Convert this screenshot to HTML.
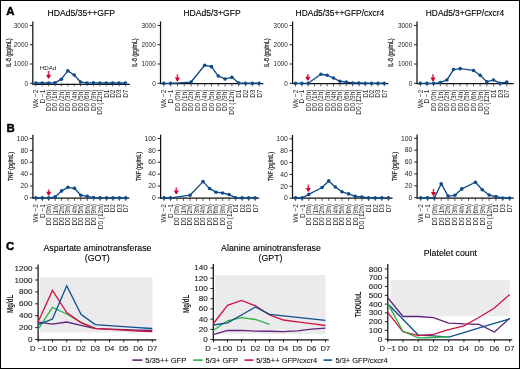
<!DOCTYPE html>
<html><head><meta charset="utf-8"><style>
html,body{margin:0;padding:0;background:#fff;}
body{width:520px;height:369px;position:relative;overflow:hidden;font-family:"Liberation Sans", sans-serif;}
</style></head><body>
<svg width="520" height="369" viewBox="0 0 520 369" style="position:absolute;left:0;top:0;will-change:transform">
<g>
<rect x="0" y="0" width="520" height="369" fill="#fff"/>
<g font-family='"Liberation Sans", sans-serif'>
<text x="6.3" y="15.1" font-size="11.4" font-weight="bold" fill="#000" stroke="#000" stroke-width="0.45">A</text>
<text x="6.6" y="131.6" font-size="11.4" font-weight="bold" fill="#000" stroke="#000" stroke-width="0.45">B</text>
<text x="6.0" y="250.3" font-size="11.4" font-weight="bold" fill="#000" stroke="#000" stroke-width="0.45">C</text>
<line x1="32.8" y1="21.5" x2="32.8" y2="84" stroke="#111" stroke-width="1.25"/>
<line x1="32.3" y1="84.35" x2="129.8" y2="84.35" stroke="#111" stroke-width="1.25"/>
<line x1="29.8" y1="25.5" x2="32.8" y2="25.5" stroke="#111" stroke-width="0.9"/>
<text transform="translate(28,27.7) scale(1.0,1)" font-size="6.4" text-anchor="end" fill="#262626">3000</text>
<line x1="29.8" y1="44.7" x2="32.8" y2="44.7" stroke="#111" stroke-width="0.9"/>
<text transform="translate(28,46.9) scale(1.0,1)" font-size="6.4" text-anchor="end" fill="#262626">2000</text>
<line x1="29.8" y1="64" x2="32.8" y2="64" stroke="#111" stroke-width="0.9"/>
<text transform="translate(28,66.2) scale(1.0,1)" font-size="6.4" text-anchor="end" fill="#262626">1000</text>
<line x1="29.8" y1="83.3" x2="32.8" y2="83.3" stroke="#111" stroke-width="0.9"/>
<text transform="translate(28,85.5) scale(1.0,1)" font-size="6.4" text-anchor="end" fill="#262626">0</text>
<line x1="35.8" y1="83.4" x2="35.8" y2="86.4" stroke="#333" stroke-width="0.8"/>
<text transform="translate(38.2,89.6) rotate(-90) scale(0.98,1)" font-size="6.6" text-anchor="end" fill="#222">Wk −2</text>
<line x1="42.2" y1="83.4" x2="42.2" y2="86.4" stroke="#333" stroke-width="0.8"/>
<text transform="translate(44.6,89.6) rotate(-90) scale(0.98,1)" font-size="6.6" text-anchor="end" fill="#222">D −1</text>
<line x1="48.6" y1="83.4" x2="48.6" y2="86.4" stroke="#333" stroke-width="0.8"/>
<text transform="translate(51,89.6) rotate(-90) scale(0.98,1)" font-size="6.6" text-anchor="end" fill="#222">D0 (0h)</text>
<line x1="55" y1="83.4" x2="55" y2="86.4" stroke="#333" stroke-width="0.8"/>
<text transform="translate(57.4,89.6) rotate(-90) scale(0.98,1)" font-size="6.6" text-anchor="end" fill="#222">D0 (1h)</text>
<line x1="61.4" y1="83.4" x2="61.4" y2="86.4" stroke="#333" stroke-width="0.8"/>
<text transform="translate(63.8,89.6) rotate(-90) scale(0.98,1)" font-size="6.6" text-anchor="end" fill="#222">D0 (2h)</text>
<line x1="67.8" y1="83.4" x2="67.8" y2="86.4" stroke="#333" stroke-width="0.8"/>
<text transform="translate(70.2,89.6) rotate(-90) scale(0.98,1)" font-size="6.6" text-anchor="end" fill="#222">D0 (3h)</text>
<line x1="74.2" y1="83.4" x2="74.2" y2="86.4" stroke="#333" stroke-width="0.8"/>
<text transform="translate(76.6,89.6) rotate(-90) scale(0.98,1)" font-size="6.6" text-anchor="end" fill="#222">D0 (4h)</text>
<line x1="80.6" y1="83.4" x2="80.6" y2="86.4" stroke="#333" stroke-width="0.8"/>
<text transform="translate(83,89.6) rotate(-90) scale(0.98,1)" font-size="6.6" text-anchor="end" fill="#222">D0 (5h)</text>
<line x1="87" y1="83.4" x2="87" y2="86.4" stroke="#333" stroke-width="0.8"/>
<text transform="translate(89.4,89.6) rotate(-90) scale(0.98,1)" font-size="6.6" text-anchor="end" fill="#222">D0 (6h)</text>
<line x1="93.4" y1="83.4" x2="93.4" y2="86.4" stroke="#333" stroke-width="0.8"/>
<text transform="translate(95.8,89.6) rotate(-90) scale(0.98,1)" font-size="6.6" text-anchor="end" fill="#222">D0 (9h)</text>
<line x1="99.8" y1="83.4" x2="99.8" y2="86.4" stroke="#333" stroke-width="0.8"/>
<text transform="translate(102.2,89.6) rotate(-90) scale(0.98,1)" font-size="6.6" text-anchor="end" fill="#222">D0 (12h)</text>
<line x1="106.2" y1="83.4" x2="106.2" y2="86.4" stroke="#333" stroke-width="0.8"/>
<text transform="translate(108.6,89.6) rotate(-90) scale(0.98,1)" font-size="6.6" text-anchor="end" fill="#222">D1</text>
<line x1="112.6" y1="83.4" x2="112.6" y2="86.4" stroke="#333" stroke-width="0.8"/>
<text transform="translate(115,89.6) rotate(-90) scale(0.98,1)" font-size="6.6" text-anchor="end" fill="#222">D2</text>
<line x1="119" y1="83.4" x2="119" y2="86.4" stroke="#333" stroke-width="0.8"/>
<text transform="translate(121.4,89.6) rotate(-90) scale(0.98,1)" font-size="6.6" text-anchor="end" fill="#222">D3</text>
<line x1="125.4" y1="83.4" x2="125.4" y2="86.4" stroke="#333" stroke-width="0.8"/>
<text transform="translate(127.8,89.6) rotate(-90) scale(0.98,1)" font-size="6.6" text-anchor="end" fill="#222">D7</text>
<polyline points="35.8,83 42.2,83 48.6,83 55,82.85 61.4,79.2 67.8,70.85 74.2,75.05 80.6,82.05 87,82.95 93.4,82.9 99.8,83 106.2,83 112.6,83 119,83 125.4,83" fill="none" stroke="#0f4b88" stroke-width="1.35" stroke-linejoin="round"/>
<circle cx="35.8" cy="83" r="1.8" fill="#0f4b88"/>
<circle cx="42.2" cy="83" r="1.8" fill="#0f4b88"/>
<circle cx="48.6" cy="83" r="1.8" fill="#0f4b88"/>
<circle cx="55" cy="82.85" r="1.8" fill="#0f4b88"/>
<circle cx="61.4" cy="79.2" r="1.8" fill="#0f4b88"/>
<circle cx="67.8" cy="70.85" r="1.8" fill="#0f4b88"/>
<circle cx="74.2" cy="75.05" r="1.8" fill="#0f4b88"/>
<circle cx="80.6" cy="82.05" r="1.8" fill="#0f4b88"/>
<circle cx="87" cy="82.95" r="1.8" fill="#0f4b88"/>
<circle cx="93.4" cy="82.9" r="1.8" fill="#0f4b88"/>
<circle cx="99.8" cy="83" r="1.8" fill="#0f4b88"/>
<circle cx="106.2" cy="83" r="1.8" fill="#0f4b88"/>
<circle cx="112.6" cy="83" r="1.8" fill="#0f4b88"/>
<circle cx="119" cy="83" r="1.8" fill="#0f4b88"/>
<circle cx="125.4" cy="83" r="1.8" fill="#0f4b88"/>
<line x1="48.6" y1="71" x2="48.6" y2="75.4" stroke="#cc0530" stroke-width="1.6" stroke-opacity="0.8"/>
<path d="M46.1,74.7 L51.1,74.7 L49.2,78.4 L48,78.4 Z" fill="#cc0530"/>
<text transform="translate(11.1,52.8) rotate(-90)" font-size="7.0" font-weight="normal" text-anchor="middle" fill="#1a1a1a" stroke="#1a1a1a" stroke-width="0.2" textLength="28.8" lengthAdjust="spacingAndGlyphs">IL-6 (pg/mL)</text>
<text x="47.5" y="15.6" font-size="8.6" fill="#000" stroke="#000" stroke-width="0.12" textLength="67.5" lengthAdjust="spacingAndGlyphs">HDAd5/35++GFP</text>
<line x1="160.5" y1="21.5" x2="160.5" y2="84" stroke="#111" stroke-width="1.25"/>
<line x1="160" y1="83.5" x2="263.3" y2="83.5" stroke="#111" stroke-width="1.25"/>
<line x1="157.5" y1="25.5" x2="160.5" y2="25.5" stroke="#111" stroke-width="0.9"/>
<text transform="translate(155.7,27.7) scale(1.0,1)" font-size="6.4" text-anchor="end" fill="#262626">3000</text>
<line x1="157.5" y1="44.7" x2="160.5" y2="44.7" stroke="#111" stroke-width="0.9"/>
<text transform="translate(155.7,46.9) scale(1.0,1)" font-size="6.4" text-anchor="end" fill="#262626">2000</text>
<line x1="157.5" y1="64" x2="160.5" y2="64" stroke="#111" stroke-width="0.9"/>
<text transform="translate(155.7,66.2) scale(1.0,1)" font-size="6.4" text-anchor="end" fill="#262626">1000</text>
<line x1="157.5" y1="83.3" x2="160.5" y2="83.3" stroke="#111" stroke-width="0.9"/>
<text transform="translate(155.7,85.5) scale(1.0,1)" font-size="6.4" text-anchor="end" fill="#262626">0</text>
<line x1="163.8" y1="83.4" x2="163.8" y2="86.4" stroke="#333" stroke-width="0.8"/>
<text transform="translate(166.2,89.6) rotate(-90) scale(0.98,1)" font-size="6.6" text-anchor="end" fill="#222">Wk −2</text>
<line x1="170.61" y1="83.4" x2="170.61" y2="86.4" stroke="#333" stroke-width="0.8"/>
<text transform="translate(173.01,89.6) rotate(-90) scale(0.98,1)" font-size="6.6" text-anchor="end" fill="#222">D −1</text>
<line x1="177.42" y1="83.4" x2="177.42" y2="86.4" stroke="#333" stroke-width="0.8"/>
<text transform="translate(179.82,89.6) rotate(-90) scale(0.98,1)" font-size="6.6" text-anchor="end" fill="#222">D0 (0h)</text>
<line x1="184.23" y1="83.4" x2="184.23" y2="86.4" stroke="#333" stroke-width="0.8"/>
<text transform="translate(186.63,89.6) rotate(-90) scale(0.98,1)" font-size="6.6" text-anchor="end" fill="#222">D0 (1h)</text>
<line x1="191.04" y1="83.4" x2="191.04" y2="86.4" stroke="#333" stroke-width="0.8"/>
<text transform="translate(193.44,89.6) rotate(-90) scale(0.98,1)" font-size="6.6" text-anchor="end" fill="#222">D0 (2h)</text>
<line x1="197.85" y1="83.4" x2="197.85" y2="86.4" stroke="#333" stroke-width="0.8"/>
<text transform="translate(200.25,89.6) rotate(-90) scale(0.98,1)" font-size="6.6" text-anchor="end" fill="#222">D0 (3h)</text>
<line x1="204.66" y1="83.4" x2="204.66" y2="86.4" stroke="#333" stroke-width="0.8"/>
<text transform="translate(207.06,89.6) rotate(-90) scale(0.98,1)" font-size="6.6" text-anchor="end" fill="#222">D0 (4h)</text>
<line x1="211.47" y1="83.4" x2="211.47" y2="86.4" stroke="#333" stroke-width="0.8"/>
<text transform="translate(213.87,89.6) rotate(-90) scale(0.98,1)" font-size="6.6" text-anchor="end" fill="#222">D0 (5h)</text>
<line x1="218.28" y1="83.4" x2="218.28" y2="86.4" stroke="#333" stroke-width="0.8"/>
<text transform="translate(220.68,89.6) rotate(-90) scale(0.98,1)" font-size="6.6" text-anchor="end" fill="#222">D0 (6h)</text>
<line x1="225.09" y1="83.4" x2="225.09" y2="86.4" stroke="#333" stroke-width="0.8"/>
<text transform="translate(227.49,89.6) rotate(-90) scale(0.98,1)" font-size="6.6" text-anchor="end" fill="#222">D0 (9h)</text>
<line x1="231.9" y1="83.4" x2="231.9" y2="86.4" stroke="#333" stroke-width="0.8"/>
<text transform="translate(234.3,89.6) rotate(-90) scale(0.98,1)" font-size="6.6" text-anchor="end" fill="#222">D0 (12h)</text>
<line x1="238.71" y1="83.4" x2="238.71" y2="86.4" stroke="#333" stroke-width="0.8"/>
<text transform="translate(241.11,89.6) rotate(-90) scale(0.98,1)" font-size="6.6" text-anchor="end" fill="#222">D1</text>
<line x1="245.52" y1="83.4" x2="245.52" y2="86.4" stroke="#333" stroke-width="0.8"/>
<text transform="translate(247.92,89.6) rotate(-90) scale(0.98,1)" font-size="6.6" text-anchor="end" fill="#222">D2</text>
<line x1="252.33" y1="83.4" x2="252.33" y2="86.4" stroke="#333" stroke-width="0.8"/>
<text transform="translate(254.73,89.6) rotate(-90) scale(0.98,1)" font-size="6.6" text-anchor="end" fill="#222">D3</text>
<line x1="259.14" y1="83.4" x2="259.14" y2="86.4" stroke="#333" stroke-width="0.8"/>
<text transform="translate(261.54,89.6) rotate(-90) scale(0.98,1)" font-size="6.6" text-anchor="end" fill="#222">D7</text>
<polyline points="163.8,83.3 170.61,83.3 191.04,82.05 204.66,65.25 211.47,66.65 218.28,76.05 225.09,78.95 231.9,77.35 238.71,83 245.52,83.2 252.33,83.2 259.14,83.2" fill="none" stroke="#0f4b88" stroke-width="1.35" stroke-linejoin="round"/>
<circle cx="163.8" cy="83.3" r="1.8" fill="#0f4b88"/>
<circle cx="170.61" cy="83.3" r="1.8" fill="#0f4b88"/>
<circle cx="191.04" cy="82.05" r="1.8" fill="#0f4b88"/>
<circle cx="204.66" cy="65.25" r="1.8" fill="#0f4b88"/>
<circle cx="211.47" cy="66.65" r="1.8" fill="#0f4b88"/>
<circle cx="218.28" cy="76.05" r="1.8" fill="#0f4b88"/>
<circle cx="225.09" cy="78.95" r="1.8" fill="#0f4b88"/>
<circle cx="231.9" cy="77.35" r="1.8" fill="#0f4b88"/>
<circle cx="238.71" cy="83" r="1.8" fill="#0f4b88"/>
<circle cx="245.52" cy="83.2" r="1.8" fill="#0f4b88"/>
<circle cx="252.33" cy="83.2" r="1.8" fill="#0f4b88"/>
<circle cx="259.14" cy="83.2" r="1.8" fill="#0f4b88"/>
<line x1="177.42" y1="74.3" x2="177.42" y2="78.3" stroke="#cc0530" stroke-width="1.6" stroke-opacity="0.8"/>
<path d="M174.92,77.6 L179.92,77.6 L178.02,81.3 L176.82,81.3 Z" fill="#cc0530"/>
<text transform="translate(136.5,52.8) rotate(-90)" font-size="7.0" font-weight="normal" text-anchor="middle" fill="#1a1a1a" stroke="#1a1a1a" stroke-width="0.2" textLength="28.8" lengthAdjust="spacingAndGlyphs">IL-6 (pg/mL)</text>
<text x="183.4" y="15.6" font-size="8.6" fill="#000" stroke="#000" stroke-width="0.12" textLength="57.3" lengthAdjust="spacingAndGlyphs">HDAd5/3+GFP</text>
<line x1="292.6" y1="21.5" x2="292.6" y2="84" stroke="#111" stroke-width="1.25"/>
<line x1="292.1" y1="83.5" x2="388.2" y2="83.5" stroke="#111" stroke-width="1.25"/>
<line x1="289.6" y1="25.5" x2="292.6" y2="25.5" stroke="#111" stroke-width="0.9"/>
<text transform="translate(287.8,27.7) scale(1.0,1)" font-size="6.4" text-anchor="end" fill="#262626">3000</text>
<line x1="289.6" y1="44.7" x2="292.6" y2="44.7" stroke="#111" stroke-width="0.9"/>
<text transform="translate(287.8,46.9) scale(1.0,1)" font-size="6.4" text-anchor="end" fill="#262626">2000</text>
<line x1="289.6" y1="64" x2="292.6" y2="64" stroke="#111" stroke-width="0.9"/>
<text transform="translate(287.8,66.2) scale(1.0,1)" font-size="6.4" text-anchor="end" fill="#262626">1000</text>
<line x1="289.6" y1="83.3" x2="292.6" y2="83.3" stroke="#111" stroke-width="0.9"/>
<text transform="translate(287.8,85.5) scale(1.0,1)" font-size="6.4" text-anchor="end" fill="#262626">0</text>
<line x1="295.5" y1="83.4" x2="295.5" y2="86.4" stroke="#333" stroke-width="0.8"/>
<text transform="translate(297.9,89.6) rotate(-90) scale(0.98,1)" font-size="6.6" text-anchor="end" fill="#222">Wk −2</text>
<line x1="301.84" y1="83.4" x2="301.84" y2="86.4" stroke="#333" stroke-width="0.8"/>
<text transform="translate(304.24,89.6) rotate(-90) scale(0.98,1)" font-size="6.6" text-anchor="end" fill="#222">D −1</text>
<line x1="308.18" y1="83.4" x2="308.18" y2="86.4" stroke="#333" stroke-width="0.8"/>
<text transform="translate(310.58,89.6) rotate(-90) scale(0.98,1)" font-size="6.6" text-anchor="end" fill="#222">D0 (0h)</text>
<line x1="314.52" y1="83.4" x2="314.52" y2="86.4" stroke="#333" stroke-width="0.8"/>
<text transform="translate(316.92,89.6) rotate(-90) scale(0.98,1)" font-size="6.6" text-anchor="end" fill="#222">D0 (1h)</text>
<line x1="320.86" y1="83.4" x2="320.86" y2="86.4" stroke="#333" stroke-width="0.8"/>
<text transform="translate(323.26,89.6) rotate(-90) scale(0.98,1)" font-size="6.6" text-anchor="end" fill="#222">D0 (2h)</text>
<line x1="327.2" y1="83.4" x2="327.2" y2="86.4" stroke="#333" stroke-width="0.8"/>
<text transform="translate(329.6,89.6) rotate(-90) scale(0.98,1)" font-size="6.6" text-anchor="end" fill="#222">D0 (3h)</text>
<line x1="333.54" y1="83.4" x2="333.54" y2="86.4" stroke="#333" stroke-width="0.8"/>
<text transform="translate(335.94,89.6) rotate(-90) scale(0.98,1)" font-size="6.6" text-anchor="end" fill="#222">D0 (4h)</text>
<line x1="339.88" y1="83.4" x2="339.88" y2="86.4" stroke="#333" stroke-width="0.8"/>
<text transform="translate(342.28,89.6) rotate(-90) scale(0.98,1)" font-size="6.6" text-anchor="end" fill="#222">D0 (5h)</text>
<line x1="346.22" y1="83.4" x2="346.22" y2="86.4" stroke="#333" stroke-width="0.8"/>
<text transform="translate(348.62,89.6) rotate(-90) scale(0.98,1)" font-size="6.6" text-anchor="end" fill="#222">D0 (6h)</text>
<line x1="352.56" y1="83.4" x2="352.56" y2="86.4" stroke="#333" stroke-width="0.8"/>
<text transform="translate(354.96,89.6) rotate(-90) scale(0.98,1)" font-size="6.6" text-anchor="end" fill="#222">D0 (9h)</text>
<line x1="358.9" y1="83.4" x2="358.9" y2="86.4" stroke="#333" stroke-width="0.8"/>
<text transform="translate(361.3,89.6) rotate(-90) scale(0.98,1)" font-size="6.6" text-anchor="end" fill="#222">D0 (12h)</text>
<line x1="365.24" y1="83.4" x2="365.24" y2="86.4" stroke="#333" stroke-width="0.8"/>
<text transform="translate(367.64,89.6) rotate(-90) scale(0.98,1)" font-size="6.6" text-anchor="end" fill="#222">D1</text>
<line x1="371.58" y1="83.4" x2="371.58" y2="86.4" stroke="#333" stroke-width="0.8"/>
<text transform="translate(373.98,89.6) rotate(-90) scale(0.98,1)" font-size="6.6" text-anchor="end" fill="#222">D2</text>
<line x1="377.92" y1="83.4" x2="377.92" y2="86.4" stroke="#333" stroke-width="0.8"/>
<text transform="translate(380.32,89.6) rotate(-90) scale(0.98,1)" font-size="6.6" text-anchor="end" fill="#222">D3</text>
<line x1="384.26" y1="83.4" x2="384.26" y2="86.4" stroke="#333" stroke-width="0.8"/>
<text transform="translate(386.66,89.6) rotate(-90) scale(0.98,1)" font-size="6.6" text-anchor="end" fill="#222">D7</text>
<polyline points="295.5,83.3 301.84,83.3 308.18,83.3 320.86,74.25 327.2,75.25 333.54,78.05 339.88,81.25 346.22,82.15 352.56,82.95 358.9,83 365.24,83.2 371.58,83.2 377.92,83.2 384.26,83.2" fill="none" stroke="#0f4b88" stroke-width="1.35" stroke-linejoin="round"/>
<circle cx="295.5" cy="83.3" r="1.8" fill="#0f4b88"/>
<circle cx="301.84" cy="83.3" r="1.8" fill="#0f4b88"/>
<circle cx="308.18" cy="83.3" r="1.8" fill="#0f4b88"/>
<circle cx="320.86" cy="74.25" r="1.8" fill="#0f4b88"/>
<circle cx="327.2" cy="75.25" r="1.8" fill="#0f4b88"/>
<circle cx="333.54" cy="78.05" r="1.8" fill="#0f4b88"/>
<circle cx="339.88" cy="81.25" r="1.8" fill="#0f4b88"/>
<circle cx="346.22" cy="82.15" r="1.8" fill="#0f4b88"/>
<circle cx="352.56" cy="82.95" r="1.8" fill="#0f4b88"/>
<circle cx="358.9" cy="83" r="1.8" fill="#0f4b88"/>
<circle cx="365.24" cy="83.2" r="1.8" fill="#0f4b88"/>
<circle cx="371.58" cy="83.2" r="1.8" fill="#0f4b88"/>
<circle cx="377.92" cy="83.2" r="1.8" fill="#0f4b88"/>
<circle cx="384.26" cy="83.2" r="1.8" fill="#0f4b88"/>
<line x1="307.8" y1="73.9" x2="307.8" y2="77.5" stroke="#cc0530" stroke-width="1.6" stroke-opacity="0.8"/>
<path d="M305.3,76.8 L310.3,76.8 L308.4,80.5 L307.2,80.5 Z" fill="#cc0530"/>
<text transform="translate(269.2,52.8) rotate(-90)" font-size="7.0" font-weight="normal" text-anchor="middle" fill="#1a1a1a" stroke="#1a1a1a" stroke-width="0.2" textLength="28.8" lengthAdjust="spacingAndGlyphs">IL-6 (pg/mL)</text>
<text x="295.6" y="15.6" font-size="8.6" fill="#000" stroke="#000" stroke-width="0.12" textLength="88.6" lengthAdjust="spacingAndGlyphs">HDAd5/35++GFP/cxcr4</text>
<line x1="417" y1="21.5" x2="417" y2="84" stroke="#111" stroke-width="1.25"/>
<line x1="416.5" y1="83.5" x2="513.75" y2="83.5" stroke="#111" stroke-width="1.25"/>
<line x1="414" y1="25.5" x2="417" y2="25.5" stroke="#111" stroke-width="0.9"/>
<text transform="translate(412.2,27.7) scale(1.0,1)" font-size="6.4" text-anchor="end" fill="#262626">3000</text>
<line x1="414" y1="44.7" x2="417" y2="44.7" stroke="#111" stroke-width="0.9"/>
<text transform="translate(412.2,46.9) scale(1.0,1)" font-size="6.4" text-anchor="end" fill="#262626">2000</text>
<line x1="414" y1="64" x2="417" y2="64" stroke="#111" stroke-width="0.9"/>
<text transform="translate(412.2,66.2) scale(1.0,1)" font-size="6.4" text-anchor="end" fill="#262626">1000</text>
<line x1="414" y1="83.3" x2="417" y2="83.3" stroke="#111" stroke-width="0.9"/>
<text transform="translate(412.2,85.5) scale(1.0,1)" font-size="6.4" text-anchor="end" fill="#262626">0</text>
<line x1="420.3" y1="83.4" x2="420.3" y2="86.4" stroke="#333" stroke-width="0.8"/>
<text transform="translate(422.7,89.6) rotate(-90) scale(0.98,1)" font-size="6.6" text-anchor="end" fill="#222">Wk −2</text>
<line x1="426.95" y1="83.4" x2="426.95" y2="86.4" stroke="#333" stroke-width="0.8"/>
<text transform="translate(429.35,89.6) rotate(-90) scale(0.98,1)" font-size="6.6" text-anchor="end" fill="#222">D −1</text>
<line x1="433.6" y1="83.4" x2="433.6" y2="86.4" stroke="#333" stroke-width="0.8"/>
<text transform="translate(436,89.6) rotate(-90) scale(0.98,1)" font-size="6.6" text-anchor="end" fill="#222">D0 (0h)</text>
<line x1="440.25" y1="83.4" x2="440.25" y2="86.4" stroke="#333" stroke-width="0.8"/>
<text transform="translate(442.65,89.6) rotate(-90) scale(0.98,1)" font-size="6.6" text-anchor="end" fill="#222">D0 (1h)</text>
<line x1="446.9" y1="83.4" x2="446.9" y2="86.4" stroke="#333" stroke-width="0.8"/>
<text transform="translate(449.3,89.6) rotate(-90) scale(0.98,1)" font-size="6.6" text-anchor="end" fill="#222">D0 (2h)</text>
<line x1="453.55" y1="83.4" x2="453.55" y2="86.4" stroke="#333" stroke-width="0.8"/>
<text transform="translate(455.95,89.6) rotate(-90) scale(0.98,1)" font-size="6.6" text-anchor="end" fill="#222">D0 (3h)</text>
<line x1="460.2" y1="83.4" x2="460.2" y2="86.4" stroke="#333" stroke-width="0.8"/>
<text transform="translate(462.6,89.6) rotate(-90) scale(0.98,1)" font-size="6.6" text-anchor="end" fill="#222">D0 (4h)</text>
<line x1="466.85" y1="83.4" x2="466.85" y2="86.4" stroke="#333" stroke-width="0.8"/>
<text transform="translate(469.25,89.6) rotate(-90) scale(0.98,1)" font-size="6.6" text-anchor="end" fill="#222">D0 (5h)</text>
<line x1="473.5" y1="83.4" x2="473.5" y2="86.4" stroke="#333" stroke-width="0.8"/>
<text transform="translate(475.9,89.6) rotate(-90) scale(0.98,1)" font-size="6.6" text-anchor="end" fill="#222">D0 (6h)</text>
<line x1="480.15" y1="83.4" x2="480.15" y2="86.4" stroke="#333" stroke-width="0.8"/>
<text transform="translate(482.55,89.6) rotate(-90) scale(0.98,1)" font-size="6.6" text-anchor="end" fill="#222">D0 (9h)</text>
<line x1="486.8" y1="83.4" x2="486.8" y2="86.4" stroke="#333" stroke-width="0.8"/>
<text transform="translate(489.2,89.6) rotate(-90) scale(0.98,1)" font-size="6.6" text-anchor="end" fill="#222">D0 (12h)</text>
<line x1="493.45" y1="83.4" x2="493.45" y2="86.4" stroke="#333" stroke-width="0.8"/>
<text transform="translate(495.85,89.6) rotate(-90) scale(0.98,1)" font-size="6.6" text-anchor="end" fill="#222">D1</text>
<line x1="500.1" y1="83.4" x2="500.1" y2="86.4" stroke="#333" stroke-width="0.8"/>
<text transform="translate(502.5,89.6) rotate(-90) scale(0.98,1)" font-size="6.6" text-anchor="end" fill="#222">D3</text>
<line x1="506.75" y1="83.4" x2="506.75" y2="86.4" stroke="#333" stroke-width="0.8"/>
<text transform="translate(509.15,89.6) rotate(-90) scale(0.98,1)" font-size="6.6" text-anchor="end" fill="#222">D7</text>
<polyline points="420.3,83.3 426.95,83.3 433.6,83.3 440.25,82.55 446.9,79.95 453.55,69.55 460.2,68.65 473.5,70.45 480.15,75.2 486.8,81.7 493.45,80.05 500.1,83.2 506.75,82.05" fill="none" stroke="#0f4b88" stroke-width="1.35" stroke-linejoin="round"/>
<circle cx="420.3" cy="83.3" r="1.8" fill="#0f4b88"/>
<circle cx="426.95" cy="83.3" r="1.8" fill="#0f4b88"/>
<circle cx="433.6" cy="83.3" r="1.8" fill="#0f4b88"/>
<circle cx="440.25" cy="82.55" r="1.8" fill="#0f4b88"/>
<circle cx="446.9" cy="79.95" r="1.8" fill="#0f4b88"/>
<circle cx="453.55" cy="69.55" r="1.8" fill="#0f4b88"/>
<circle cx="460.2" cy="68.65" r="1.8" fill="#0f4b88"/>
<circle cx="473.5" cy="70.45" r="1.8" fill="#0f4b88"/>
<circle cx="480.15" cy="75.2" r="1.8" fill="#0f4b88"/>
<circle cx="486.8" cy="81.7" r="1.8" fill="#0f4b88"/>
<circle cx="493.45" cy="80.05" r="1.8" fill="#0f4b88"/>
<circle cx="500.1" cy="83.2" r="1.8" fill="#0f4b88"/>
<circle cx="506.75" cy="82.05" r="1.8" fill="#0f4b88"/>
<line x1="433" y1="74.3" x2="433" y2="78.2" stroke="#cc0530" stroke-width="1.6" stroke-opacity="0.8"/>
<path d="M430.5,77.5 L435.5,77.5 L433.6,81.2 L432.4,81.2 Z" fill="#cc0530"/>
<text transform="translate(393,52.8) rotate(-90)" font-size="7.0" font-weight="normal" text-anchor="middle" fill="#1a1a1a" stroke="#1a1a1a" stroke-width="0.2" textLength="28.8" lengthAdjust="spacingAndGlyphs">IL-6 (pg/mL)</text>
<text x="425.8" y="15.6" font-size="8.6" fill="#000" stroke="#000" stroke-width="0.12" textLength="78.4" lengthAdjust="spacingAndGlyphs">HDAd5/3+GFP/cxcr4</text>
<line x1="32.9" y1="134.7" x2="32.9" y2="198.5" stroke="#111" stroke-width="1.25"/>
<line x1="32.4" y1="198" x2="129.4" y2="198" stroke="#111" stroke-width="1.25"/>
<line x1="29.9" y1="138.5" x2="32.9" y2="138.5" stroke="#111" stroke-width="0.9"/>
<text transform="translate(28.1,140.7) scale(1.08,1)" font-size="6.3" text-anchor="end" fill="#262626">100</text>
<line x1="29.9" y1="150.38" x2="32.9" y2="150.38" stroke="#111" stroke-width="0.9"/>
<text transform="translate(28.1,152.58) scale(1.08,1)" font-size="6.3" text-anchor="end" fill="#262626">80</text>
<line x1="29.9" y1="162.26" x2="32.9" y2="162.26" stroke="#111" stroke-width="0.9"/>
<text transform="translate(28.1,164.46) scale(1.08,1)" font-size="6.3" text-anchor="end" fill="#262626">60</text>
<line x1="29.9" y1="174.14" x2="32.9" y2="174.14" stroke="#111" stroke-width="0.9"/>
<text transform="translate(28.1,176.34) scale(1.08,1)" font-size="6.3" text-anchor="end" fill="#262626">40</text>
<line x1="29.9" y1="186.02" x2="32.9" y2="186.02" stroke="#111" stroke-width="0.9"/>
<text transform="translate(28.1,188.22) scale(1.08,1)" font-size="6.3" text-anchor="end" fill="#262626">20</text>
<line x1="29.9" y1="197.9" x2="32.9" y2="197.9" stroke="#111" stroke-width="0.9"/>
<text transform="translate(28.1,200.1) scale(1.08,1)" font-size="6.3" text-anchor="end" fill="#262626">0</text>
<line x1="35.9" y1="197.9" x2="35.9" y2="200.9" stroke="#333" stroke-width="0.8"/>
<text transform="translate(38.3,204.1) rotate(-90) scale(0.98,1)" font-size="6.6" text-anchor="end" fill="#222">Wk −2</text>
<line x1="42.32" y1="197.9" x2="42.32" y2="200.9" stroke="#333" stroke-width="0.8"/>
<text transform="translate(44.72,204.1) rotate(-90) scale(0.98,1)" font-size="6.6" text-anchor="end" fill="#222">D −1</text>
<line x1="48.74" y1="197.9" x2="48.74" y2="200.9" stroke="#333" stroke-width="0.8"/>
<text transform="translate(51.14,204.1) rotate(-90) scale(0.98,1)" font-size="6.6" text-anchor="end" fill="#222">D0 (0h)</text>
<line x1="55.16" y1="197.9" x2="55.16" y2="200.9" stroke="#333" stroke-width="0.8"/>
<text transform="translate(57.56,204.1) rotate(-90) scale(0.98,1)" font-size="6.6" text-anchor="end" fill="#222">D0 (1h)</text>
<line x1="61.58" y1="197.9" x2="61.58" y2="200.9" stroke="#333" stroke-width="0.8"/>
<text transform="translate(63.98,204.1) rotate(-90) scale(0.98,1)" font-size="6.6" text-anchor="end" fill="#222">D0 (2h)</text>
<line x1="68" y1="197.9" x2="68" y2="200.9" stroke="#333" stroke-width="0.8"/>
<text transform="translate(70.4,204.1) rotate(-90) scale(0.98,1)" font-size="6.6" text-anchor="end" fill="#222">D0 (3h)</text>
<line x1="74.42" y1="197.9" x2="74.42" y2="200.9" stroke="#333" stroke-width="0.8"/>
<text transform="translate(76.82,204.1) rotate(-90) scale(0.98,1)" font-size="6.6" text-anchor="end" fill="#222">D0 (4h)</text>
<line x1="80.84" y1="197.9" x2="80.84" y2="200.9" stroke="#333" stroke-width="0.8"/>
<text transform="translate(83.24,204.1) rotate(-90) scale(0.98,1)" font-size="6.6" text-anchor="end" fill="#222">D0 (5h)</text>
<line x1="87.26" y1="197.9" x2="87.26" y2="200.9" stroke="#333" stroke-width="0.8"/>
<text transform="translate(89.66,204.1) rotate(-90) scale(0.98,1)" font-size="6.6" text-anchor="end" fill="#222">D0 (6h)</text>
<line x1="93.68" y1="197.9" x2="93.68" y2="200.9" stroke="#333" stroke-width="0.8"/>
<text transform="translate(96.08,204.1) rotate(-90) scale(0.98,1)" font-size="6.6" text-anchor="end" fill="#222">D0 (9h)</text>
<line x1="100.1" y1="197.9" x2="100.1" y2="200.9" stroke="#333" stroke-width="0.8"/>
<text transform="translate(102.5,204.1) rotate(-90) scale(0.98,1)" font-size="6.6" text-anchor="end" fill="#222">D0 (12h)</text>
<line x1="106.52" y1="197.9" x2="106.52" y2="200.9" stroke="#333" stroke-width="0.8"/>
<text transform="translate(108.92,204.1) rotate(-90) scale(0.98,1)" font-size="6.6" text-anchor="end" fill="#222">D1</text>
<line x1="112.94" y1="197.9" x2="112.94" y2="200.9" stroke="#333" stroke-width="0.8"/>
<text transform="translate(115.34,204.1) rotate(-90) scale(0.98,1)" font-size="6.6" text-anchor="end" fill="#222">D2</text>
<line x1="119.36" y1="197.9" x2="119.36" y2="200.9" stroke="#333" stroke-width="0.8"/>
<text transform="translate(121.76,204.1) rotate(-90) scale(0.98,1)" font-size="6.6" text-anchor="end" fill="#222">D3</text>
<line x1="125.78" y1="197.9" x2="125.78" y2="200.9" stroke="#333" stroke-width="0.8"/>
<text transform="translate(128.18,204.1) rotate(-90) scale(0.98,1)" font-size="6.6" text-anchor="end" fill="#222">D7</text>
<polyline points="35.9,197.9 42.32,197.9 48.74,197.9 55.16,196.9 61.58,190.9 68,187.3 74.42,188.3 80.84,195.2 87.26,196.3 93.68,197.6 100.1,197.9 106.52,197.9 112.94,197.9 119.36,197.9 125.78,197.9" fill="none" stroke="#0f4b88" stroke-width="1.35" stroke-linejoin="round"/>
<circle cx="35.9" cy="197.9" r="1.8" fill="#0f4b88"/>
<circle cx="42.32" cy="197.9" r="1.8" fill="#0f4b88"/>
<circle cx="48.74" cy="197.9" r="1.8" fill="#0f4b88"/>
<circle cx="55.16" cy="196.9" r="1.8" fill="#0f4b88"/>
<circle cx="61.58" cy="190.9" r="1.8" fill="#0f4b88"/>
<circle cx="68" cy="187.3" r="1.8" fill="#0f4b88"/>
<circle cx="74.42" cy="188.3" r="1.8" fill="#0f4b88"/>
<circle cx="80.84" cy="195.2" r="1.8" fill="#0f4b88"/>
<circle cx="87.26" cy="196.3" r="1.8" fill="#0f4b88"/>
<circle cx="93.68" cy="197.6" r="1.8" fill="#0f4b88"/>
<circle cx="100.1" cy="197.9" r="1.8" fill="#0f4b88"/>
<circle cx="106.52" cy="197.9" r="1.8" fill="#0f4b88"/>
<circle cx="112.94" cy="197.9" r="1.8" fill="#0f4b88"/>
<circle cx="119.36" cy="197.9" r="1.8" fill="#0f4b88"/>
<circle cx="125.78" cy="197.9" r="1.8" fill="#0f4b88"/>
<line x1="48.74" y1="189.5" x2="48.74" y2="192.4" stroke="#cc0530" stroke-width="1.6" stroke-opacity="0.8"/>
<path d="M46.24,191.7 L51.24,191.7 L49.34,195.4 L48.14,195.4 Z" fill="#cc0530"/>
<text transform="translate(13.2,166.6) rotate(-90)" font-size="6.9" font-weight="normal" text-anchor="middle" fill="#1a1a1a" stroke="#1a1a1a" stroke-width="0.2" textLength="29.0" lengthAdjust="spacingAndGlyphs">TNF (pg/mL)</text>
<text x="0" y="0" font-size="8.6" fill="#000" stroke="#000" stroke-width="0.12" textLength="1" lengthAdjust="spacingAndGlyphs"></text>
<line x1="160.6" y1="134.7" x2="160.6" y2="198.5" stroke="#111" stroke-width="1.25"/>
<line x1="160.1" y1="198" x2="259.2" y2="198" stroke="#111" stroke-width="1.25"/>
<line x1="157.6" y1="138.5" x2="160.6" y2="138.5" stroke="#111" stroke-width="0.9"/>
<text transform="translate(155.8,140.7) scale(1.08,1)" font-size="6.3" text-anchor="end" fill="#262626">100</text>
<line x1="157.6" y1="150.38" x2="160.6" y2="150.38" stroke="#111" stroke-width="0.9"/>
<text transform="translate(155.8,152.58) scale(1.08,1)" font-size="6.3" text-anchor="end" fill="#262626">80</text>
<line x1="157.6" y1="162.26" x2="160.6" y2="162.26" stroke="#111" stroke-width="0.9"/>
<text transform="translate(155.8,164.46) scale(1.08,1)" font-size="6.3" text-anchor="end" fill="#262626">60</text>
<line x1="157.6" y1="174.14" x2="160.6" y2="174.14" stroke="#111" stroke-width="0.9"/>
<text transform="translate(155.8,176.34) scale(1.08,1)" font-size="6.3" text-anchor="end" fill="#262626">40</text>
<line x1="157.6" y1="186.02" x2="160.6" y2="186.02" stroke="#111" stroke-width="0.9"/>
<text transform="translate(155.8,188.22) scale(1.08,1)" font-size="6.3" text-anchor="end" fill="#262626">20</text>
<line x1="157.6" y1="197.9" x2="160.6" y2="197.9" stroke="#111" stroke-width="0.9"/>
<text transform="translate(155.8,200.1) scale(1.08,1)" font-size="6.3" text-anchor="end" fill="#262626">0</text>
<line x1="164" y1="197.9" x2="164" y2="200.9" stroke="#333" stroke-width="0.8"/>
<text transform="translate(166.4,204.1) rotate(-90) scale(0.98,1)" font-size="6.6" text-anchor="end" fill="#222">Wk −2</text>
<line x1="170.51" y1="197.9" x2="170.51" y2="200.9" stroke="#333" stroke-width="0.8"/>
<text transform="translate(172.91,204.1) rotate(-90) scale(0.98,1)" font-size="6.6" text-anchor="end" fill="#222">D −1</text>
<line x1="177.02" y1="197.9" x2="177.02" y2="200.9" stroke="#333" stroke-width="0.8"/>
<text transform="translate(179.42,204.1) rotate(-90) scale(0.98,1)" font-size="6.6" text-anchor="end" fill="#222">D0 (0h)</text>
<line x1="183.53" y1="197.9" x2="183.53" y2="200.9" stroke="#333" stroke-width="0.8"/>
<text transform="translate(185.93,204.1) rotate(-90) scale(0.98,1)" font-size="6.6" text-anchor="end" fill="#222">D0 (1h)</text>
<line x1="190.04" y1="197.9" x2="190.04" y2="200.9" stroke="#333" stroke-width="0.8"/>
<text transform="translate(192.44,204.1) rotate(-90) scale(0.98,1)" font-size="6.6" text-anchor="end" fill="#222">D0 (2h)</text>
<line x1="196.55" y1="197.9" x2="196.55" y2="200.9" stroke="#333" stroke-width="0.8"/>
<text transform="translate(198.95,204.1) rotate(-90) scale(0.98,1)" font-size="6.6" text-anchor="end" fill="#222">D0 (3h)</text>
<line x1="203.06" y1="197.9" x2="203.06" y2="200.9" stroke="#333" stroke-width="0.8"/>
<text transform="translate(205.46,204.1) rotate(-90) scale(0.98,1)" font-size="6.6" text-anchor="end" fill="#222">D0 (4h)</text>
<line x1="209.57" y1="197.9" x2="209.57" y2="200.9" stroke="#333" stroke-width="0.8"/>
<text transform="translate(211.97,204.1) rotate(-90) scale(0.98,1)" font-size="6.6" text-anchor="end" fill="#222">D0 (5h)</text>
<line x1="216.08" y1="197.9" x2="216.08" y2="200.9" stroke="#333" stroke-width="0.8"/>
<text transform="translate(218.48,204.1) rotate(-90) scale(0.98,1)" font-size="6.6" text-anchor="end" fill="#222">D0 (6h)</text>
<line x1="222.59" y1="197.9" x2="222.59" y2="200.9" stroke="#333" stroke-width="0.8"/>
<text transform="translate(224.99,204.1) rotate(-90) scale(0.98,1)" font-size="6.6" text-anchor="end" fill="#222">D0 (9h)</text>
<line x1="229.1" y1="197.9" x2="229.1" y2="200.9" stroke="#333" stroke-width="0.8"/>
<text transform="translate(231.5,204.1) rotate(-90) scale(0.98,1)" font-size="6.6" text-anchor="end" fill="#222">D0 (12h)</text>
<line x1="235.61" y1="197.9" x2="235.61" y2="200.9" stroke="#333" stroke-width="0.8"/>
<text transform="translate(238.01,204.1) rotate(-90) scale(0.98,1)" font-size="6.6" text-anchor="end" fill="#222">D1</text>
<line x1="242.12" y1="197.9" x2="242.12" y2="200.9" stroke="#333" stroke-width="0.8"/>
<text transform="translate(244.52,204.1) rotate(-90) scale(0.98,1)" font-size="6.6" text-anchor="end" fill="#222">D2</text>
<line x1="248.63" y1="197.9" x2="248.63" y2="200.9" stroke="#333" stroke-width="0.8"/>
<text transform="translate(251.03,204.1) rotate(-90) scale(0.98,1)" font-size="6.6" text-anchor="end" fill="#222">D3</text>
<line x1="255.14" y1="197.9" x2="255.14" y2="200.9" stroke="#333" stroke-width="0.8"/>
<text transform="translate(257.54,204.1) rotate(-90) scale(0.98,1)" font-size="6.6" text-anchor="end" fill="#222">D7</text>
<polyline points="164,197.9 170.51,197.9 190.04,195.2 203.06,181.6 209.57,188.6 216.08,192.2 222.59,193 229.1,194.6 235.61,197.7 242.12,197.9 248.63,197.9 255.14,197.9" fill="none" stroke="#0f4b88" stroke-width="1.35" stroke-linejoin="round"/>
<circle cx="164" cy="197.9" r="1.8" fill="#0f4b88"/>
<circle cx="170.51" cy="197.9" r="1.8" fill="#0f4b88"/>
<circle cx="190.04" cy="195.2" r="1.8" fill="#0f4b88"/>
<circle cx="203.06" cy="181.6" r="1.8" fill="#0f4b88"/>
<circle cx="209.57" cy="188.6" r="1.8" fill="#0f4b88"/>
<circle cx="216.08" cy="192.2" r="1.8" fill="#0f4b88"/>
<circle cx="222.59" cy="193" r="1.8" fill="#0f4b88"/>
<circle cx="229.1" cy="194.6" r="1.8" fill="#0f4b88"/>
<circle cx="235.61" cy="197.7" r="1.8" fill="#0f4b88"/>
<circle cx="242.12" cy="197.9" r="1.8" fill="#0f4b88"/>
<circle cx="248.63" cy="197.9" r="1.8" fill="#0f4b88"/>
<circle cx="255.14" cy="197.9" r="1.8" fill="#0f4b88"/>
<line x1="176.3" y1="187.4" x2="176.3" y2="191.1" stroke="#cc0530" stroke-width="1.6" stroke-opacity="0.8"/>
<path d="M173.8,190.4 L178.8,190.4 L176.9,194.1 L175.7,194.1 Z" fill="#cc0530"/>
<text transform="translate(141,166.6) rotate(-90)" font-size="6.9" font-weight="normal" text-anchor="middle" fill="#1a1a1a" stroke="#1a1a1a" stroke-width="0.2" textLength="29.0" lengthAdjust="spacingAndGlyphs">TNF (pg/mL)</text>
<text x="0" y="0" font-size="8.6" fill="#000" stroke="#000" stroke-width="0.12" textLength="1" lengthAdjust="spacingAndGlyphs"></text>
<line x1="292.5" y1="135" x2="292.5" y2="198.5" stroke="#111" stroke-width="1.25"/>
<line x1="292" y1="198" x2="392.6" y2="198" stroke="#111" stroke-width="1.25"/>
<line x1="289.5" y1="138.8" x2="292.5" y2="138.8" stroke="#111" stroke-width="0.9"/>
<text transform="translate(287.7,141) scale(1.08,1)" font-size="6.3" text-anchor="end" fill="#262626">100</text>
<line x1="289.5" y1="150.68" x2="292.5" y2="150.68" stroke="#111" stroke-width="0.9"/>
<text transform="translate(287.7,152.88) scale(1.08,1)" font-size="6.3" text-anchor="end" fill="#262626">80</text>
<line x1="289.5" y1="162.56" x2="292.5" y2="162.56" stroke="#111" stroke-width="0.9"/>
<text transform="translate(287.7,164.76) scale(1.08,1)" font-size="6.3" text-anchor="end" fill="#262626">60</text>
<line x1="289.5" y1="174.44" x2="292.5" y2="174.44" stroke="#111" stroke-width="0.9"/>
<text transform="translate(287.7,176.64) scale(1.08,1)" font-size="6.3" text-anchor="end" fill="#262626">40</text>
<line x1="289.5" y1="186.32" x2="292.5" y2="186.32" stroke="#111" stroke-width="0.9"/>
<text transform="translate(287.7,188.52) scale(1.08,1)" font-size="6.3" text-anchor="end" fill="#262626">20</text>
<line x1="289.5" y1="198.2" x2="292.5" y2="198.2" stroke="#111" stroke-width="0.9"/>
<text transform="translate(287.7,200.4) scale(1.08,1)" font-size="6.3" text-anchor="end" fill="#262626">0</text>
<line x1="295.5" y1="197.9" x2="295.5" y2="200.9" stroke="#333" stroke-width="0.8"/>
<text transform="translate(297.9,204.1) rotate(-90) scale(0.98,1)" font-size="6.6" text-anchor="end" fill="#222">Wk −2</text>
<line x1="302.14" y1="197.9" x2="302.14" y2="200.9" stroke="#333" stroke-width="0.8"/>
<text transform="translate(304.54,204.1) rotate(-90) scale(0.98,1)" font-size="6.6" text-anchor="end" fill="#222">D −1</text>
<line x1="308.78" y1="197.9" x2="308.78" y2="200.9" stroke="#333" stroke-width="0.8"/>
<text transform="translate(311.18,204.1) rotate(-90) scale(0.98,1)" font-size="6.6" text-anchor="end" fill="#222">D0 (0h)</text>
<line x1="315.42" y1="197.9" x2="315.42" y2="200.9" stroke="#333" stroke-width="0.8"/>
<text transform="translate(317.82,204.1) rotate(-90) scale(0.98,1)" font-size="6.6" text-anchor="end" fill="#222">D0 (1h)</text>
<line x1="322.06" y1="197.9" x2="322.06" y2="200.9" stroke="#333" stroke-width="0.8"/>
<text transform="translate(324.46,204.1) rotate(-90) scale(0.98,1)" font-size="6.6" text-anchor="end" fill="#222">D0 (2h)</text>
<line x1="328.7" y1="197.9" x2="328.7" y2="200.9" stroke="#333" stroke-width="0.8"/>
<text transform="translate(331.1,204.1) rotate(-90) scale(0.98,1)" font-size="6.6" text-anchor="end" fill="#222">D0 (3h)</text>
<line x1="335.34" y1="197.9" x2="335.34" y2="200.9" stroke="#333" stroke-width="0.8"/>
<text transform="translate(337.74,204.1) rotate(-90) scale(0.98,1)" font-size="6.6" text-anchor="end" fill="#222">D0 (4h)</text>
<line x1="341.98" y1="197.9" x2="341.98" y2="200.9" stroke="#333" stroke-width="0.8"/>
<text transform="translate(344.38,204.1) rotate(-90) scale(0.98,1)" font-size="6.6" text-anchor="end" fill="#222">D0 (5h)</text>
<line x1="348.62" y1="197.9" x2="348.62" y2="200.9" stroke="#333" stroke-width="0.8"/>
<text transform="translate(351.02,204.1) rotate(-90) scale(0.98,1)" font-size="6.6" text-anchor="end" fill="#222">D0 (6h)</text>
<line x1="355.26" y1="197.9" x2="355.26" y2="200.9" stroke="#333" stroke-width="0.8"/>
<text transform="translate(357.66,204.1) rotate(-90) scale(0.98,1)" font-size="6.6" text-anchor="end" fill="#222">D0 (9h)</text>
<line x1="361.9" y1="197.9" x2="361.9" y2="200.9" stroke="#333" stroke-width="0.8"/>
<text transform="translate(364.3,204.1) rotate(-90) scale(0.98,1)" font-size="6.6" text-anchor="end" fill="#222">D0 (12h)</text>
<line x1="368.54" y1="197.9" x2="368.54" y2="200.9" stroke="#333" stroke-width="0.8"/>
<text transform="translate(370.94,204.1) rotate(-90) scale(0.98,1)" font-size="6.6" text-anchor="end" fill="#222">D1</text>
<line x1="375.18" y1="197.9" x2="375.18" y2="200.9" stroke="#333" stroke-width="0.8"/>
<text transform="translate(377.58,204.1) rotate(-90) scale(0.98,1)" font-size="6.6" text-anchor="end" fill="#222">D2</text>
<line x1="381.82" y1="197.9" x2="381.82" y2="200.9" stroke="#333" stroke-width="0.8"/>
<text transform="translate(384.22,204.1) rotate(-90) scale(0.98,1)" font-size="6.6" text-anchor="end" fill="#222">D3</text>
<line x1="388.46" y1="197.9" x2="388.46" y2="200.9" stroke="#333" stroke-width="0.8"/>
<text transform="translate(390.86,204.1) rotate(-90) scale(0.98,1)" font-size="6.6" text-anchor="end" fill="#222">D7</text>
<polyline points="295.5,197.9 302.14,197.9 308.78,194.4 322.06,187.5 328.7,180.9 335.34,187 341.98,191.8 348.62,193.9 355.26,196.4 361.9,197 368.54,197.9 375.18,197.9 381.82,197.9 388.46,197.9" fill="none" stroke="#0f4b88" stroke-width="1.35" stroke-linejoin="round"/>
<circle cx="295.5" cy="197.9" r="1.8" fill="#0f4b88"/>
<circle cx="302.14" cy="197.9" r="1.8" fill="#0f4b88"/>
<circle cx="308.78" cy="194.4" r="1.8" fill="#0f4b88"/>
<circle cx="322.06" cy="187.5" r="1.8" fill="#0f4b88"/>
<circle cx="328.7" cy="180.9" r="1.8" fill="#0f4b88"/>
<circle cx="335.34" cy="187" r="1.8" fill="#0f4b88"/>
<circle cx="341.98" cy="191.8" r="1.8" fill="#0f4b88"/>
<circle cx="348.62" cy="193.9" r="1.8" fill="#0f4b88"/>
<circle cx="355.26" cy="196.4" r="1.8" fill="#0f4b88"/>
<circle cx="361.9" cy="197" r="1.8" fill="#0f4b88"/>
<circle cx="368.54" cy="197.9" r="1.8" fill="#0f4b88"/>
<circle cx="375.18" cy="197.9" r="1.8" fill="#0f4b88"/>
<circle cx="381.82" cy="197.9" r="1.8" fill="#0f4b88"/>
<circle cx="388.46" cy="197.9" r="1.8" fill="#0f4b88"/>
<line x1="308.3" y1="184.6" x2="308.3" y2="188.6" stroke="#cc0530" stroke-width="1.6" stroke-opacity="0.8"/>
<path d="M305.8,187.9 L310.8,187.9 L308.9,191.6 L307.7,191.6 Z" fill="#cc0530"/>
<text transform="translate(272.9,166.6) rotate(-90)" font-size="6.9" font-weight="normal" text-anchor="middle" fill="#1a1a1a" stroke="#1a1a1a" stroke-width="0.2" textLength="29.0" lengthAdjust="spacingAndGlyphs">TNF (pg/mL)</text>
<text x="0" y="0" font-size="8.6" fill="#000" stroke="#000" stroke-width="0.12" textLength="1" lengthAdjust="spacingAndGlyphs"></text>
<line x1="417.1" y1="134.4" x2="417.1" y2="198.5" stroke="#111" stroke-width="1.25"/>
<line x1="416.6" y1="198" x2="513.75" y2="198" stroke="#111" stroke-width="1.25"/>
<line x1="414.1" y1="138.3" x2="417.1" y2="138.3" stroke="#111" stroke-width="0.9"/>
<text transform="translate(412.3,140.5) scale(1.08,1)" font-size="6.3" text-anchor="end" fill="#262626">100</text>
<line x1="414.1" y1="150.18" x2="417.1" y2="150.18" stroke="#111" stroke-width="0.9"/>
<text transform="translate(412.3,152.38) scale(1.08,1)" font-size="6.3" text-anchor="end" fill="#262626">80</text>
<line x1="414.1" y1="162.06" x2="417.1" y2="162.06" stroke="#111" stroke-width="0.9"/>
<text transform="translate(412.3,164.26) scale(1.08,1)" font-size="6.3" text-anchor="end" fill="#262626">60</text>
<line x1="414.1" y1="173.94" x2="417.1" y2="173.94" stroke="#111" stroke-width="0.9"/>
<text transform="translate(412.3,176.14) scale(1.08,1)" font-size="6.3" text-anchor="end" fill="#262626">40</text>
<line x1="414.1" y1="185.82" x2="417.1" y2="185.82" stroke="#111" stroke-width="0.9"/>
<text transform="translate(412.3,188.02) scale(1.08,1)" font-size="6.3" text-anchor="end" fill="#262626">20</text>
<line x1="414.1" y1="197.7" x2="417.1" y2="197.7" stroke="#111" stroke-width="0.9"/>
<text transform="translate(412.3,199.9) scale(1.08,1)" font-size="6.3" text-anchor="end" fill="#262626">0</text>
<line x1="420.7" y1="197.9" x2="420.7" y2="200.9" stroke="#333" stroke-width="0.8"/>
<text transform="translate(423.1,204.1) rotate(-90) scale(0.98,1)" font-size="6.6" text-anchor="end" fill="#222">Wk −2</text>
<line x1="427.54" y1="197.9" x2="427.54" y2="200.9" stroke="#333" stroke-width="0.8"/>
<text transform="translate(429.94,204.1) rotate(-90) scale(0.98,1)" font-size="6.6" text-anchor="end" fill="#222">D −1</text>
<line x1="434.38" y1="197.9" x2="434.38" y2="200.9" stroke="#333" stroke-width="0.8"/>
<text transform="translate(436.78,204.1) rotate(-90) scale(0.98,1)" font-size="6.6" text-anchor="end" fill="#222">D0 (0h)</text>
<line x1="441.22" y1="197.9" x2="441.22" y2="200.9" stroke="#333" stroke-width="0.8"/>
<text transform="translate(443.62,204.1) rotate(-90) scale(0.98,1)" font-size="6.6" text-anchor="end" fill="#222">D0 (1h)</text>
<line x1="448.06" y1="197.9" x2="448.06" y2="200.9" stroke="#333" stroke-width="0.8"/>
<text transform="translate(450.46,204.1) rotate(-90) scale(0.98,1)" font-size="6.6" text-anchor="end" fill="#222">D0 (2h)</text>
<line x1="454.9" y1="197.9" x2="454.9" y2="200.9" stroke="#333" stroke-width="0.8"/>
<text transform="translate(457.3,204.1) rotate(-90) scale(0.98,1)" font-size="6.6" text-anchor="end" fill="#222">D0 (3h)</text>
<line x1="461.74" y1="197.9" x2="461.74" y2="200.9" stroke="#333" stroke-width="0.8"/>
<text transform="translate(464.14,204.1) rotate(-90) scale(0.98,1)" font-size="6.6" text-anchor="end" fill="#222">D0 (4h)</text>
<line x1="468.58" y1="197.9" x2="468.58" y2="200.9" stroke="#333" stroke-width="0.8"/>
<text transform="translate(470.98,204.1) rotate(-90) scale(0.98,1)" font-size="6.6" text-anchor="end" fill="#222">D0 (5h)</text>
<line x1="475.42" y1="197.9" x2="475.42" y2="200.9" stroke="#333" stroke-width="0.8"/>
<text transform="translate(477.82,204.1) rotate(-90) scale(0.98,1)" font-size="6.6" text-anchor="end" fill="#222">D0 (6h)</text>
<line x1="482.26" y1="197.9" x2="482.26" y2="200.9" stroke="#333" stroke-width="0.8"/>
<text transform="translate(484.66,204.1) rotate(-90) scale(0.98,1)" font-size="6.6" text-anchor="end" fill="#222">D0 (9h)</text>
<line x1="489.1" y1="197.9" x2="489.1" y2="200.9" stroke="#333" stroke-width="0.8"/>
<text transform="translate(491.5,204.1) rotate(-90) scale(0.98,1)" font-size="6.6" text-anchor="end" fill="#222">D0 (12h)</text>
<line x1="495.94" y1="197.9" x2="495.94" y2="200.9" stroke="#333" stroke-width="0.8"/>
<text transform="translate(498.34,204.1) rotate(-90) scale(0.98,1)" font-size="6.6" text-anchor="end" fill="#222">D1</text>
<line x1="502.78" y1="197.9" x2="502.78" y2="200.9" stroke="#333" stroke-width="0.8"/>
<text transform="translate(505.18,204.1) rotate(-90) scale(0.98,1)" font-size="6.6" text-anchor="end" fill="#222">D3</text>
<line x1="509.62" y1="197.9" x2="509.62" y2="200.9" stroke="#333" stroke-width="0.8"/>
<text transform="translate(512.02,204.1) rotate(-90) scale(0.98,1)" font-size="6.6" text-anchor="end" fill="#222">D7</text>
<polyline points="420.7,197.9 427.54,197.9 434.38,197.9 441.22,183.7 448.06,196.1 454.9,195.3 461.74,188.9 475.42,182.25 482.26,189.75 489.1,195 495.94,196.6 502.78,198 509.62,198" fill="none" stroke="#0f4b88" stroke-width="1.35" stroke-linejoin="round"/>
<circle cx="420.7" cy="197.9" r="1.8" fill="#0f4b88"/>
<circle cx="427.54" cy="197.9" r="1.8" fill="#0f4b88"/>
<circle cx="434.38" cy="197.9" r="1.8" fill="#0f4b88"/>
<circle cx="441.22" cy="183.7" r="1.8" fill="#0f4b88"/>
<circle cx="448.06" cy="196.1" r="1.8" fill="#0f4b88"/>
<circle cx="454.9" cy="195.3" r="1.8" fill="#0f4b88"/>
<circle cx="461.74" cy="188.9" r="1.8" fill="#0f4b88"/>
<circle cx="475.42" cy="182.25" r="1.8" fill="#0f4b88"/>
<circle cx="482.26" cy="189.75" r="1.8" fill="#0f4b88"/>
<circle cx="489.1" cy="195" r="1.8" fill="#0f4b88"/>
<circle cx="495.94" cy="196.6" r="1.8" fill="#0f4b88"/>
<circle cx="502.78" cy="198" r="1.8" fill="#0f4b88"/>
<circle cx="509.62" cy="198" r="1.8" fill="#0f4b88"/>
<line x1="433.5" y1="188.9" x2="433.5" y2="192.7" stroke="#cc0530" stroke-width="1.6" stroke-opacity="0.8"/>
<path d="M431,192 L436,192 L434.1,195.7 L432.9,195.7 Z" fill="#cc0530"/>
<text transform="translate(396.9,166.6) rotate(-90)" font-size="6.9" font-weight="normal" text-anchor="middle" fill="#1a1a1a" stroke="#1a1a1a" stroke-width="0.2" textLength="29.0" lengthAdjust="spacingAndGlyphs">TNF (pg/mL)</text>
<text x="0" y="0" font-size="8.6" fill="#000" stroke="#000" stroke-width="0.12" textLength="1" lengthAdjust="spacingAndGlyphs"></text>
<text x="39.8" y="70.2" font-size="6.2" fill="#222" textLength="16.6" lengthAdjust="spacingAndGlyphs">HDAd</text>
<rect x="39.8" y="277.1" width="112.8" height="55.4" fill="#ebebed"/>
<line x1="38.1" y1="264.4" x2="38.1" y2="340.4" stroke="#111" stroke-width="1.25"/>
<line x1="37.6" y1="339.8" x2="156.3" y2="339.8" stroke="#111" stroke-width="1.25"/>
<line x1="35.1" y1="339.5" x2="38.1" y2="339.5" stroke="#111" stroke-width="0.9"/>
<text transform="translate(32.5,342) scale(1.13,1)" font-size="7.2" text-anchor="end" fill="#1a1a1a" stroke="#1a1a1a" stroke-width="0.1">0</text>
<line x1="35.1" y1="327.6" x2="38.1" y2="327.6" stroke="#111" stroke-width="0.9"/>
<text transform="translate(32.5,330.1) scale(1.13,1)" font-size="7.2" text-anchor="end" fill="#1a1a1a" stroke="#1a1a1a" stroke-width="0.1">200</text>
<line x1="35.1" y1="315.7" x2="38.1" y2="315.7" stroke="#111" stroke-width="0.9"/>
<text transform="translate(32.5,318.2) scale(1.13,1)" font-size="7.2" text-anchor="end" fill="#1a1a1a" stroke="#1a1a1a" stroke-width="0.1">400</text>
<line x1="35.1" y1="303.8" x2="38.1" y2="303.8" stroke="#111" stroke-width="0.9"/>
<text transform="translate(32.5,306.3) scale(1.13,1)" font-size="7.2" text-anchor="end" fill="#1a1a1a" stroke="#1a1a1a" stroke-width="0.1">600</text>
<line x1="35.1" y1="291.9" x2="38.1" y2="291.9" stroke="#111" stroke-width="0.9"/>
<text transform="translate(32.5,294.4) scale(1.13,1)" font-size="7.2" text-anchor="end" fill="#1a1a1a" stroke="#1a1a1a" stroke-width="0.1">800</text>
<line x1="35.1" y1="280" x2="38.1" y2="280" stroke="#111" stroke-width="0.9"/>
<text transform="translate(32.5,282.5) scale(1.13,1)" font-size="7.2" text-anchor="end" fill="#1a1a1a" stroke="#1a1a1a" stroke-width="0.1">1000</text>
<line x1="35.1" y1="268.1" x2="38.1" y2="268.1" stroke="#111" stroke-width="0.9"/>
<text transform="translate(32.5,270.6) scale(1.13,1)" font-size="7.2" text-anchor="end" fill="#1a1a1a" stroke="#1a1a1a" stroke-width="0.1">1200</text>
<line x1="38.2" y1="339.8" x2="38.2" y2="342.3" stroke="#111" stroke-width="0.9"/>
<text x="38.2" y="351.3" font-size="7.6" text-anchor="middle" fill="#1a1a1a" stroke="#1a1a1a" stroke-width="0.1">D −1</text>
<line x1="52.46" y1="339.8" x2="52.46" y2="342.3" stroke="#111" stroke-width="0.9"/>
<text x="52.46" y="351.3" font-size="7.6" text-anchor="middle" fill="#1a1a1a" stroke="#1a1a1a" stroke-width="0.1">D0</text>
<line x1="66.72" y1="339.8" x2="66.72" y2="342.3" stroke="#111" stroke-width="0.9"/>
<text x="66.72" y="351.3" font-size="7.6" text-anchor="middle" fill="#1a1a1a" stroke="#1a1a1a" stroke-width="0.1">D1</text>
<line x1="80.98" y1="339.8" x2="80.98" y2="342.3" stroke="#111" stroke-width="0.9"/>
<text x="80.98" y="351.3" font-size="7.6" text-anchor="middle" fill="#1a1a1a" stroke="#1a1a1a" stroke-width="0.1">D2</text>
<line x1="95.24" y1="339.8" x2="95.24" y2="342.3" stroke="#111" stroke-width="0.9"/>
<text x="95.24" y="351.3" font-size="7.6" text-anchor="middle" fill="#1a1a1a" stroke="#1a1a1a" stroke-width="0.1">D3</text>
<line x1="109.5" y1="339.8" x2="109.5" y2="342.3" stroke="#111" stroke-width="0.9"/>
<text x="109.5" y="351.3" font-size="7.6" text-anchor="middle" fill="#1a1a1a" stroke="#1a1a1a" stroke-width="0.1">D4</text>
<line x1="123.76" y1="339.8" x2="123.76" y2="342.3" stroke="#111" stroke-width="0.9"/>
<text x="123.76" y="351.3" font-size="7.6" text-anchor="middle" fill="#1a1a1a" stroke="#1a1a1a" stroke-width="0.1">D5</text>
<line x1="138.02" y1="339.8" x2="138.02" y2="342.3" stroke="#111" stroke-width="0.9"/>
<text x="138.02" y="351.3" font-size="7.6" text-anchor="middle" fill="#1a1a1a" stroke="#1a1a1a" stroke-width="0.1">D6</text>
<line x1="152.28" y1="339.8" x2="152.28" y2="342.3" stroke="#111" stroke-width="0.9"/>
<text x="152.28" y="351.3" font-size="7.6" text-anchor="middle" fill="#1a1a1a" stroke="#1a1a1a" stroke-width="0.1">D7</text>
<polyline points="38.2,322.2 52.46,324.2 66.72,322 80.98,325.3 95.24,328.7 109.5,329.2 123.76,329.7 138.02,330.1 152.28,330.5" fill="none" stroke="#5e2278" stroke-width="1.3" stroke-linejoin="miter"/>
<polyline points="38.2,329.2 52.46,307.3 66.72,314 80.98,322.3 95.24,328.4" fill="none" stroke="#2db444" stroke-width="1.3" stroke-linejoin="miter"/>
<polyline points="38.2,321.8 52.46,290.4 66.72,312.6 80.98,322.6 95.24,328.4 109.5,329.4 123.76,330.2 138.02,331.2 152.28,331.5" fill="none" stroke="#d3123f" stroke-width="1.3" stroke-linejoin="miter"/>
<polyline points="38.2,324.6 52.46,319.1 66.72,285.7 80.98,314.2 95.24,324.6 109.5,325.6 123.76,326.6 138.02,327.6 152.28,328.5" fill="none" stroke="#0e4f8c" stroke-width="1.3" stroke-linejoin="miter"/>
<text transform="translate(12.6,303.9) rotate(-90)" font-size="9" font-weight="bold" text-anchor="middle" fill="#222" textLength="18.2" lengthAdjust="spacingAndGlyphs">Mg/dL</text>
<text x="97.5" y="250.8" font-size="8.8" text-anchor="middle" fill="#000" stroke="#000" stroke-width="0.12">Aspartate aminotransferase</text>
<text x="97.3" y="260.6" font-size="8.8" text-anchor="middle" fill="#000" stroke="#000" stroke-width="0.12">(GOT)</text>
<rect x="215.1" y="275.1" width="110.5" height="58.9" fill="#ebebed"/>
<line x1="213.3" y1="264.1" x2="213.3" y2="340.4" stroke="#111" stroke-width="1.25"/>
<line x1="212.8" y1="339.8" x2="328.7" y2="339.8" stroke="#111" stroke-width="1.25"/>
<line x1="210.3" y1="339.6" x2="213.3" y2="339.6" stroke="#111" stroke-width="0.9"/>
<text transform="translate(207.7,342.1) scale(1.13,1)" font-size="7.2" text-anchor="end" fill="#1a1a1a" stroke="#1a1a1a" stroke-width="0.1">0</text>
<line x1="210.3" y1="329.37" x2="213.3" y2="329.37" stroke="#111" stroke-width="0.9"/>
<text transform="translate(207.7,331.87) scale(1.13,1)" font-size="7.2" text-anchor="end" fill="#1a1a1a" stroke="#1a1a1a" stroke-width="0.1">20</text>
<line x1="210.3" y1="319.14" x2="213.3" y2="319.14" stroke="#111" stroke-width="0.9"/>
<text transform="translate(207.7,321.64) scale(1.13,1)" font-size="7.2" text-anchor="end" fill="#1a1a1a" stroke="#1a1a1a" stroke-width="0.1">40</text>
<line x1="210.3" y1="308.91" x2="213.3" y2="308.91" stroke="#111" stroke-width="0.9"/>
<text transform="translate(207.7,311.41) scale(1.13,1)" font-size="7.2" text-anchor="end" fill="#1a1a1a" stroke="#1a1a1a" stroke-width="0.1">60</text>
<line x1="210.3" y1="298.68" x2="213.3" y2="298.68" stroke="#111" stroke-width="0.9"/>
<text transform="translate(207.7,301.18) scale(1.13,1)" font-size="7.2" text-anchor="end" fill="#1a1a1a" stroke="#1a1a1a" stroke-width="0.1">80</text>
<line x1="210.3" y1="288.45" x2="213.3" y2="288.45" stroke="#111" stroke-width="0.9"/>
<text transform="translate(207.7,290.95) scale(1.13,1)" font-size="7.2" text-anchor="end" fill="#1a1a1a" stroke="#1a1a1a" stroke-width="0.1">100</text>
<line x1="210.3" y1="278.22" x2="213.3" y2="278.22" stroke="#111" stroke-width="0.9"/>
<text transform="translate(207.7,280.72) scale(1.13,1)" font-size="7.2" text-anchor="end" fill="#1a1a1a" stroke="#1a1a1a" stroke-width="0.1">120</text>
<line x1="210.3" y1="267.99" x2="213.3" y2="267.99" stroke="#111" stroke-width="0.9"/>
<text transform="translate(207.7,270.49) scale(1.13,1)" font-size="7.2" text-anchor="end" fill="#1a1a1a" stroke="#1a1a1a" stroke-width="0.1">140</text>
<line x1="213.5" y1="339.8" x2="213.5" y2="342.3" stroke="#111" stroke-width="0.9"/>
<text x="213.5" y="351.3" font-size="7.6" text-anchor="middle" fill="#1a1a1a" stroke="#1a1a1a" stroke-width="0.1">D −1</text>
<line x1="227.49" y1="339.8" x2="227.49" y2="342.3" stroke="#111" stroke-width="0.9"/>
<text x="227.49" y="351.3" font-size="7.6" text-anchor="middle" fill="#1a1a1a" stroke="#1a1a1a" stroke-width="0.1">D0</text>
<line x1="241.48" y1="339.8" x2="241.48" y2="342.3" stroke="#111" stroke-width="0.9"/>
<text x="241.48" y="351.3" font-size="7.6" text-anchor="middle" fill="#1a1a1a" stroke="#1a1a1a" stroke-width="0.1">D1</text>
<line x1="255.47" y1="339.8" x2="255.47" y2="342.3" stroke="#111" stroke-width="0.9"/>
<text x="255.47" y="351.3" font-size="7.6" text-anchor="middle" fill="#1a1a1a" stroke="#1a1a1a" stroke-width="0.1">D2</text>
<line x1="269.46" y1="339.8" x2="269.46" y2="342.3" stroke="#111" stroke-width="0.9"/>
<text x="269.46" y="351.3" font-size="7.6" text-anchor="middle" fill="#1a1a1a" stroke="#1a1a1a" stroke-width="0.1">D3</text>
<line x1="283.45" y1="339.8" x2="283.45" y2="342.3" stroke="#111" stroke-width="0.9"/>
<text x="283.45" y="351.3" font-size="7.6" text-anchor="middle" fill="#1a1a1a" stroke="#1a1a1a" stroke-width="0.1">D4</text>
<line x1="297.44" y1="339.8" x2="297.44" y2="342.3" stroke="#111" stroke-width="0.9"/>
<text x="297.44" y="351.3" font-size="7.6" text-anchor="middle" fill="#1a1a1a" stroke="#1a1a1a" stroke-width="0.1">D5</text>
<line x1="311.43" y1="339.8" x2="311.43" y2="342.3" stroke="#111" stroke-width="0.9"/>
<text x="311.43" y="351.3" font-size="7.6" text-anchor="middle" fill="#1a1a1a" stroke="#1a1a1a" stroke-width="0.1">D6</text>
<line x1="325.42" y1="339.8" x2="325.42" y2="342.3" stroke="#111" stroke-width="0.9"/>
<text x="325.42" y="351.3" font-size="7.6" text-anchor="middle" fill="#1a1a1a" stroke="#1a1a1a" stroke-width="0.1">D7</text>
<polyline points="213.5,334.6 227.49,330.5 241.48,330.3 255.47,331.2 269.46,331.25 283.45,331.6 297.44,330.9 311.43,329.1 325.42,328.1" fill="none" stroke="#5e2278" stroke-width="1.3" stroke-linejoin="miter"/>
<polyline points="213.5,330.3 227.49,320.8 241.48,317.7 255.47,319.5 269.46,324.4" fill="none" stroke="#2db444" stroke-width="1.3" stroke-linejoin="miter"/>
<polyline points="213.5,323.5 227.49,305.4 241.48,300.5 255.47,305.8 269.46,314.8 283.45,320 297.44,321.8 311.43,323.6 325.42,325.5" fill="none" stroke="#d3123f" stroke-width="1.3" stroke-linejoin="miter"/>
<polyline points="213.5,325 227.49,322.8 241.48,315 255.47,306.9 269.46,314.3 283.45,315.8 297.44,317.3 311.43,318.8 325.42,320.4" fill="none" stroke="#0e4f8c" stroke-width="1.3" stroke-linejoin="miter"/>
<text transform="translate(189.4,303.9) rotate(-90)" font-size="9" font-weight="bold" text-anchor="middle" fill="#222" textLength="18.2" lengthAdjust="spacingAndGlyphs">Mg/dL</text>
<text x="271" y="250.8" font-size="8.8" text-anchor="middle" fill="#000" stroke="#000" stroke-width="0.12">Alanine aminotransferase</text>
<text x="270.5" y="260.6" font-size="8.8" text-anchor="middle" fill="#000" stroke="#000" stroke-width="0.12">(GPT)</text>
<rect x="390.4" y="280.2" width="119.3" height="36.1" fill="#ebebed"/>
<line x1="387.8" y1="264.1" x2="387.8" y2="340.4" stroke="#111" stroke-width="1.25"/>
<line x1="387.3" y1="339.8" x2="512.2" y2="339.8" stroke="#111" stroke-width="1.25"/>
<line x1="384.8" y1="339.2" x2="387.8" y2="339.2" stroke="#111" stroke-width="0.9"/>
<text transform="translate(382.2,341.7) scale(1.13,1)" font-size="7.2" text-anchor="end" fill="#1a1a1a" stroke="#1a1a1a" stroke-width="0.1">0</text>
<line x1="384.8" y1="330.43" x2="387.8" y2="330.43" stroke="#111" stroke-width="0.9"/>
<text transform="translate(382.2,332.93) scale(1.13,1)" font-size="7.2" text-anchor="end" fill="#1a1a1a" stroke="#1a1a1a" stroke-width="0.1">100</text>
<line x1="384.8" y1="321.66" x2="387.8" y2="321.66" stroke="#111" stroke-width="0.9"/>
<text transform="translate(382.2,324.16) scale(1.13,1)" font-size="7.2" text-anchor="end" fill="#1a1a1a" stroke="#1a1a1a" stroke-width="0.1">200</text>
<line x1="384.8" y1="312.89" x2="387.8" y2="312.89" stroke="#111" stroke-width="0.9"/>
<text transform="translate(382.2,315.39) scale(1.13,1)" font-size="7.2" text-anchor="end" fill="#1a1a1a" stroke="#1a1a1a" stroke-width="0.1">300</text>
<line x1="384.8" y1="304.12" x2="387.8" y2="304.12" stroke="#111" stroke-width="0.9"/>
<text transform="translate(382.2,306.62) scale(1.13,1)" font-size="7.2" text-anchor="end" fill="#1a1a1a" stroke="#1a1a1a" stroke-width="0.1">400</text>
<line x1="384.8" y1="295.35" x2="387.8" y2="295.35" stroke="#111" stroke-width="0.9"/>
<text transform="translate(382.2,297.85) scale(1.13,1)" font-size="7.2" text-anchor="end" fill="#1a1a1a" stroke="#1a1a1a" stroke-width="0.1">500</text>
<line x1="384.8" y1="286.58" x2="387.8" y2="286.58" stroke="#111" stroke-width="0.9"/>
<text transform="translate(382.2,289.08) scale(1.13,1)" font-size="7.2" text-anchor="end" fill="#1a1a1a" stroke="#1a1a1a" stroke-width="0.1">600</text>
<line x1="384.8" y1="277.81" x2="387.8" y2="277.81" stroke="#111" stroke-width="0.9"/>
<text transform="translate(382.2,280.31) scale(1.13,1)" font-size="7.2" text-anchor="end" fill="#1a1a1a" stroke="#1a1a1a" stroke-width="0.1">700</text>
<line x1="384.8" y1="269.04" x2="387.8" y2="269.04" stroke="#111" stroke-width="0.9"/>
<text transform="translate(382.2,271.54) scale(1.13,1)" font-size="7.2" text-anchor="end" fill="#1a1a1a" stroke="#1a1a1a" stroke-width="0.1">800</text>
<line x1="387.7" y1="339.8" x2="387.7" y2="342.3" stroke="#111" stroke-width="0.9"/>
<text x="387.7" y="351.3" font-size="7.6" text-anchor="middle" fill="#1a1a1a" stroke="#1a1a1a" stroke-width="0.1">D −1</text>
<line x1="402.95" y1="339.8" x2="402.95" y2="342.3" stroke="#111" stroke-width="0.9"/>
<text x="402.95" y="351.3" font-size="7.6" text-anchor="middle" fill="#1a1a1a" stroke="#1a1a1a" stroke-width="0.1">D0</text>
<line x1="418.2" y1="339.8" x2="418.2" y2="342.3" stroke="#111" stroke-width="0.9"/>
<text x="418.2" y="351.3" font-size="7.6" text-anchor="middle" fill="#1a1a1a" stroke="#1a1a1a" stroke-width="0.1">D1</text>
<line x1="433.45" y1="339.8" x2="433.45" y2="342.3" stroke="#111" stroke-width="0.9"/>
<text x="433.45" y="351.3" font-size="7.6" text-anchor="middle" fill="#1a1a1a" stroke="#1a1a1a" stroke-width="0.1">D2</text>
<line x1="448.7" y1="339.8" x2="448.7" y2="342.3" stroke="#111" stroke-width="0.9"/>
<text x="448.7" y="351.3" font-size="7.6" text-anchor="middle" fill="#1a1a1a" stroke="#1a1a1a" stroke-width="0.1">D3</text>
<line x1="463.95" y1="339.8" x2="463.95" y2="342.3" stroke="#111" stroke-width="0.9"/>
<text x="463.95" y="351.3" font-size="7.6" text-anchor="middle" fill="#1a1a1a" stroke="#1a1a1a" stroke-width="0.1">D4</text>
<line x1="479.2" y1="339.8" x2="479.2" y2="342.3" stroke="#111" stroke-width="0.9"/>
<text x="479.2" y="351.3" font-size="7.6" text-anchor="middle" fill="#1a1a1a" stroke="#1a1a1a" stroke-width="0.1">D5</text>
<line x1="494.45" y1="339.8" x2="494.45" y2="342.3" stroke="#111" stroke-width="0.9"/>
<text x="494.45" y="351.3" font-size="7.6" text-anchor="middle" fill="#1a1a1a" stroke="#1a1a1a" stroke-width="0.1">D6</text>
<line x1="509.7" y1="339.8" x2="509.7" y2="342.3" stroke="#111" stroke-width="0.9"/>
<text x="509.7" y="351.3" font-size="7.6" text-anchor="middle" fill="#1a1a1a" stroke="#1a1a1a" stroke-width="0.1">D7</text>
<polyline points="387.7,297.7 402.95,316.5 418.2,316.5 433.45,317.6 448.7,323.1 463.95,323.9 479.2,324.3 494.45,332 509.7,318.2" fill="none" stroke="#5e2278" stroke-width="1.3" stroke-linejoin="miter"/>
<polyline points="387.7,303.7 402.95,319.3 418.2,335 433.45,335.9 448.7,337.1 463.95,332.6 479.2,327.9 494.45,323.3 509.7,318.8" fill="none" stroke="#0e4f8c" stroke-width="1.3" stroke-linejoin="miter"/>
<polyline points="387.7,312.4 402.95,331.6 418.2,335.6 433.45,334.4 448.7,329.6 463.95,325.9 479.2,317.2 494.45,308 509.7,294.4" fill="none" stroke="#d3123f" stroke-width="1.3" stroke-linejoin="miter"/>
<polyline points="387.7,303.4 402.95,331.3 418.2,337.9 433.45,337.5 448.7,336.7" fill="none" stroke="#2db444" stroke-width="1.3" stroke-linejoin="miter"/>
<text transform="translate(361.3,304.4) rotate(-90)" font-size="9" font-weight="bold" text-anchor="middle" fill="#222" textLength="25.8" lengthAdjust="spacingAndGlyphs">THOU/uL</text>
<text x="450.4" y="256" font-size="8.8" text-anchor="middle" fill="#000" stroke="#000" stroke-width="0.12">Platelet count</text>
<line x1="132.4" y1="360.1" x2="142.5" y2="360.1" stroke="#5e2278" stroke-width="1.6"/>
<text x="145.3" y="362.8" font-size="7.5" fill="#111" stroke="#111" stroke-width="0.1">5/35++ GFP</text>
<line x1="193.2" y1="360.1" x2="202.7" y2="360.1" stroke="#2db444" stroke-width="1.6"/>
<text x="205.6" y="362.8" font-size="7.5" fill="#111" stroke="#111" stroke-width="0.1">5/3+ GFP</text>
<line x1="244.5" y1="360.1" x2="253.4" y2="360.1" stroke="#d3123f" stroke-width="1.6"/>
<text x="256.2" y="362.8" font-size="7.5" fill="#111" stroke="#111" stroke-width="0.1">5/35++ GFP/cxcr4</text>
<line x1="323.5" y1="360.1" x2="332.1" y2="360.1" stroke="#0e4f8c" stroke-width="1.6"/>
<text x="335.4" y="362.8" font-size="7.5" fill="#111" stroke="#111" stroke-width="0.1">5/3+ GFP/cxcr4</text>
</g>
<rect x="0.5" y="0.5" width="519" height="368" fill="none" stroke="#000" stroke-width="1"/>
</g>
</svg>
</body></html>
